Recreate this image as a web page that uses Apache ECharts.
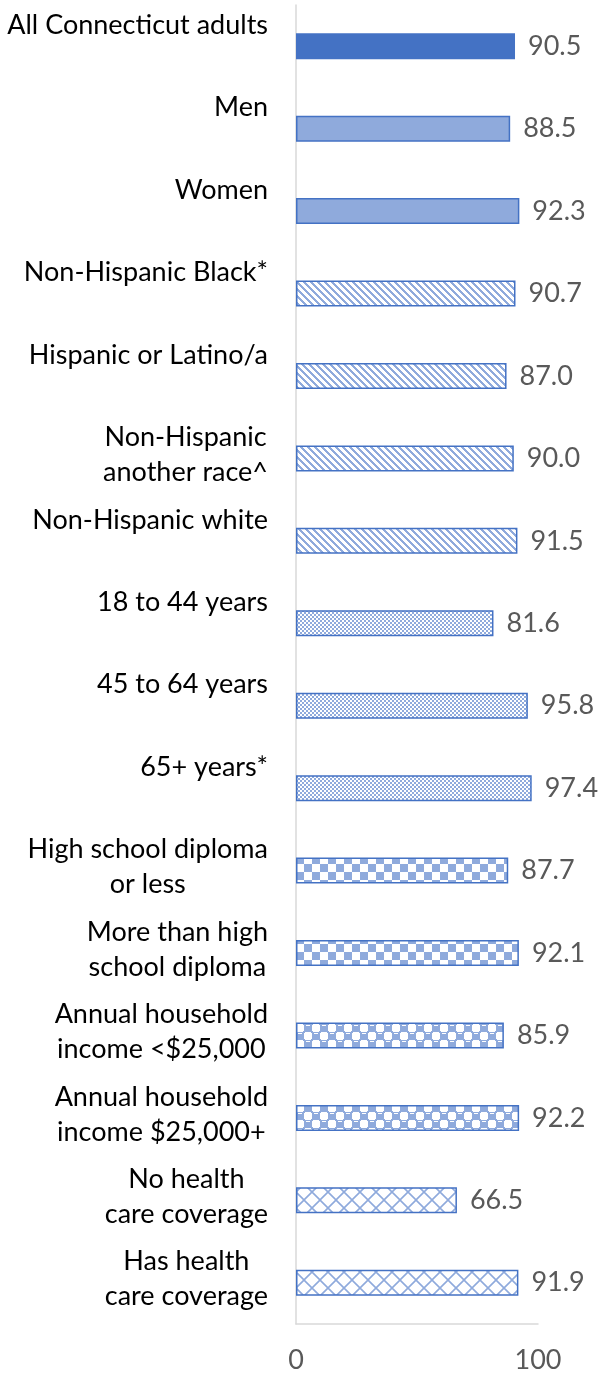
<!DOCTYPE html>
<html>
<head>
<meta charset="utf-8">
<script src="https://cdn.jsdelivr.net/npm/echarts@6/dist/echarts.min.js"></script>
<style>
  html, body { margin: 0; padding: 0; background: #ffffff; }
  #chart { width: 602px; height: 1374px; }
</style>
</head>
<body>
<div id="chart"></div>
<script>
// ---- Data ----
const categories = [
  "All Connecticut adults",
  "Men",
  "Women",
  "Non-Hispanic Black*",
  "Hispanic or Latino/a",
  "Non-Hispanic\nanother race^",
  "Non-Hispanic white",
  "18 to 44 years",
  "45 to 64 years",
  "65+ years*",
  "High school diploma\nor less",
  "More than high\nschool diploma",
  "Annual household\nincome <$25,000",
  "Annual household\nincome $25,000+",
  "No health\ncare coverage",
  "Has health\ncare coverage"
];
const values = [90.5, 88.5, 92.3, 90.7, 87.0, 90.0, 91.5, 81.6, 95.8, 97.4, 87.7, 92.1, 85.9, 92.2, 66.5, 91.9];
const xTicks = [0, 100];

// ---- Styles ----
const DARK = '#4472C4';
const LIGHT = '#8FAADC';
const FONT = 'Lato';

function pixelPattern(w, h, fn) {
  const c = document.createElement('canvas');
  c.width = w; c.height = h;
  const ctx = c.getContext('2d');
  ctx.fillStyle = '#ffffff';
  ctx.fillRect(0, 0, w, h);
  ctx.fillStyle = LIGHT;
  for (let y = 0; y < h; y++) {
    for (let x = 0; x < w; x++) {
      if (fn(x, y)) ctx.fillRect(x, y, 1, 1);
    }
  }
  return c;
}
function diamondPattern() {
  const c = document.createElement('canvas');
  c.width = 16; c.height = 16;
  const ctx = c.getContext('2d');
  ctx.fillStyle = '#ffffff';
  ctx.fillRect(0, 0, 16, 16);
  ctx.strokeStyle = LIGHT;
  ctx.lineWidth = 1.6;
  ctx.beginPath();
  ctx.moveTo(0, 0); ctx.lineTo(16, 16);
  ctx.moveTo(16, 0); ctx.lineTo(0, 16);
  ctx.stroke();
  return c;
}
const patterns = {
  stripe: pixelPattern(7, 7, (x, y) => (((x - y) % 7) + 7) % 7 < 3),
  fine: pixelPattern(4, 4, (x, y) => (((x >> 1) + (y >> 1)) % 2) === 0),
  checker: pixelPattern(16, 16, (x, y) => (((x >> 3) + (y >> 3)) % 2) === 0),
  sphere: pixelPattern(16, 16, (x, y) => {
    const cx = x >> 3, cy = y >> 3;
    const lx = x % 8, ly = y % 8;
    const blueCell = ((cx + cy) % 2) === 0;
    if (blueCell) {
      if (ly === 1 && lx >= 2 && lx <= 5) return false;
      return true;
    }
    return (lx === 0 || lx === 7) && (ly === 0 || ly === 7);
  }),
  diamond: diamondPattern()
};

function fillFor(i) {
  if (i === 0) return DARK;
  if (i <= 2) return LIGHT;
  if (i <= 6) return { image: patterns.stripe, repeat: 'repeat' };
  if (i <= 9) return { image: patterns.fine, repeat: 'repeat' };
  if (i <= 11) return { image: patterns.checker, repeat: 'repeat' };
  if (i <= 13) return { image: patterns.sphere, repeat: 'repeat' };
  return { image: patterns.diamond, repeat: 'repeat' };
}

const seriesData = values.map((v, i) => ({
  value: v,
  itemStyle: { color: fillFor(i), borderColor: DARK, borderWidth: i === 0 ? 0 : 1.5 }
}));

const chart = echarts.init(document.getElementById('chart'), null, { renderer: 'canvas' });
chart.setOption({
  animation: false,
  backgroundColor: '#ffffff',
  grid: { left: 296, right: 64, top: 5, bottom: 48, containLabel: false },
  xAxis: {
    type: 'value',
    min: xTicks[0],
    max: xTicks[xTicks.length - 1],
    interval: xTicks[1] - xTicks[0],
    axisLine: { show: true, lineStyle: { color: '#D9D9D9', width: 1.5 } },
    axisTick: { show: false },
    splitLine: { show: false },
    axisLabel: { color: '#595959', fontSize: 27, fontFamily: FONT, margin: 23 }
  },
  yAxis: {
    type: 'category',
    inverse: true,
    data: categories,
    axisLine: { show: true, lineStyle: { color: '#D9D9D9', width: 1.5 } },
    axisTick: { show: false },
    axisLabel: {
      margin: 28,
      align: 'right',
      verticalAlign: 'middle',
      padding: [0, 0, 7, 0],
      formatter: function (v) {
        const lines = v.split('\n');
        let s = lines.map(l => '{c|' + l + '}').join('\n');
        if (lines.length === 1) s += '\n{c| }';
        return s;
      },
      rich: {
        c: { align: 'center', lineHeight: 35, fontSize: 27, fontFamily: FONT, color: '#000000' }
      }
    }
  },
  series: [{
    type: 'bar',
    data: seriesData,
    barWidth: 26,
    label: {
      show: true,
      position: 'right',
      distance: 13,
      color: '#595959',
      fontSize: 27,
      fontFamily: FONT,
      formatter: p => p.value.toFixed(1)
    }
  }]
});
</script>
</body>
</html>
